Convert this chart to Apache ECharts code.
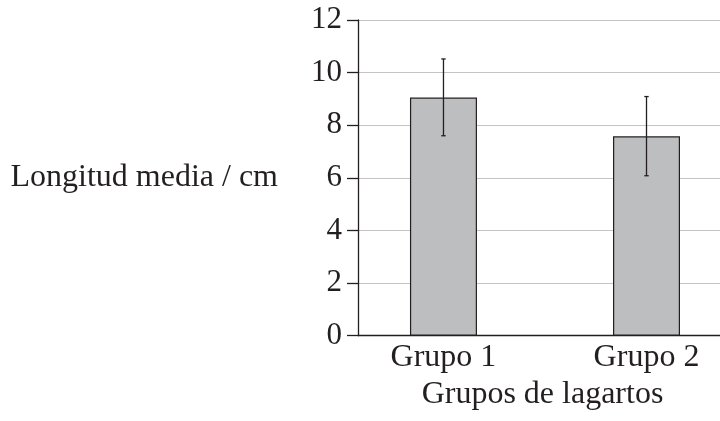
<!DOCTYPE html>
<html>
<head>
<meta charset="utf-8">
<script src="https://cdn.jsdelivr.net/npm/echarts@6/dist/echarts.min.js"></script>
<style>
html,body{margin:0;padding:0;background:#fff;}
#c{width:720px;height:421px;}
</style>
</head>
<body>
<div id="c"></div>
<script>
const categories = ['Grupo 1', 'Grupo 2'];
const meanValues = [9.05, 7.58];
const errorLow = [7.6, 6.08];
const errorHigh = [10.52, 9.09];
const yTicks = [0, 2, 4, 6, 8, 10, 12];
const xTitle = 'Grupos de lagartos';
const yTitle = 'Longitud media / cm';

const ink = '#231f20';
const font = 'Liberation Serif';
const fs = 31;
const fsT = 32;

const chart = echarts.init(document.getElementById('c'));
const barData = categories.map((c, i) => [i + 1, meanValues[i]]);
const errData = categories.map((c, i) => [i + 1, errorLow[i], errorHigh[i]]);

chart.setOption({
  animation: false,
  grid: { left: 358, right: 0, top: 20, bottom: 85.3, containLabel: false },
  xAxis: {
    type: 'value',
    min: 0.579,
    max: 2.362,
    name: xTitle,
    nameLocation: 'middle',
    nameGap: 58,
    nameTextStyle: { fontFamily: font, fontSize: fsT, color: ink, verticalAlign: 'middle', padding: [0, 0, 0, 7] },
    axisLine: { show: true, lineStyle: { color: ink, width: 1.3 } },
    axisTick: { show: false },
    splitLine: { show: false },
    axisLabel: {
      customValues: categories.map((c, i) => i + 1),
      formatter: v => categories[Math.round(v) - 1] || '',
      fontFamily: font, fontSize: fsT, color: ink, margin: 6
    }
  },
  yAxis: {
    type: 'value',
    min: yTicks[0],
    max: yTicks[yTicks.length - 1],
    interval: 2,
    name: yTitle,
    nameLocation: 'middle',
    nameRotate: 0,
    nameGap: 80,
    nameTextStyle: { fontFamily: font, fontSize: fsT, color: ink, align: 'right', verticalAlign: 'middle', padding: [3, 0, 0, 0] },
    axisLine: { show: true, lineStyle: { color: ink, width: 1.3 } },
    axisTick: { show: true, inside: false, length: 11, lineStyle: { color: ink, width: 1.3 } },
    axisLabel: { fontFamily: font, fontSize: fs, color: ink, margin: 16 },
    splitLine: { show: true, lineStyle: { color: '#c4c4c4', width: 1.2 } }
  },
  series: [
    {
      type: 'bar',
      data: barData,
      barWidth: 67,
      itemStyle: { color: '#bdbec0', borderColor: ink, borderWidth: 1.2 },
      z: 2
    },
    {
      type: 'custom',
      data: errData,
      z: 3,
      renderItem: function (params, api) {
        const x = api.value(0);
        const lo = api.coord([x, api.value(1)]);
        const hi = api.coord([x, api.value(2)]);
        const cap = 2.2;
        const style = { stroke: ink, lineWidth: 1.3 };
        return {
          type: 'group',
          children: [
            { type: 'line', shape: { x1: lo[0], y1: lo[1], x2: hi[0], y2: hi[1] }, style: style },
            { type: 'line', shape: { x1: lo[0] - cap, y1: lo[1], x2: lo[0] + cap, y2: lo[1] }, style: style },
            { type: 'line', shape: { x1: hi[0] - cap, y1: hi[1], x2: hi[0] + cap, y2: hi[1] }, style: style }
          ]
        };
      }
    }
  ]
});
</script>
</body>
</html>
